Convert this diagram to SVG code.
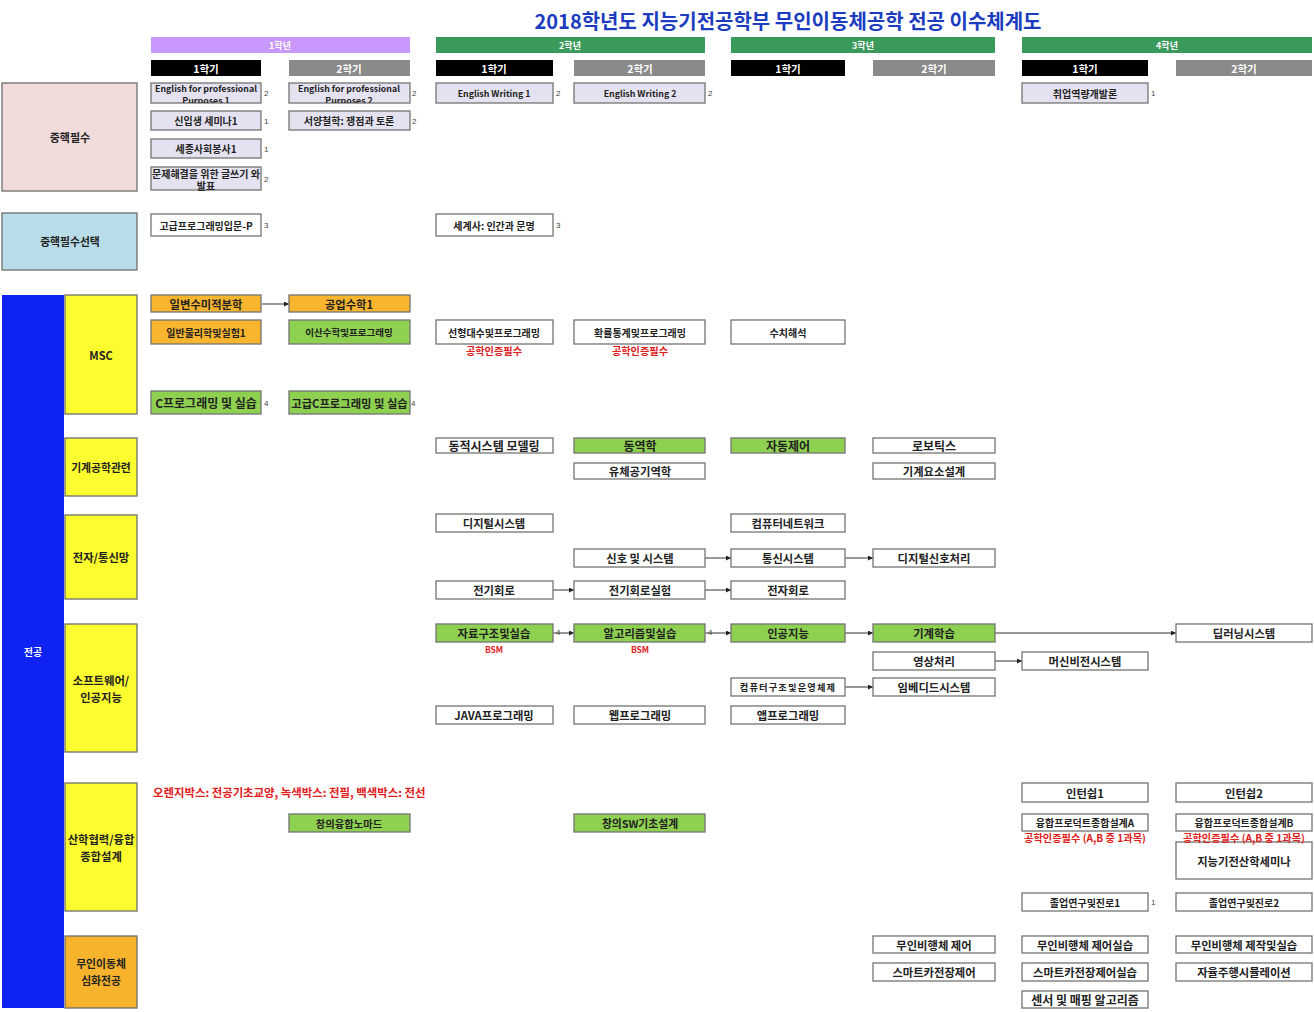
<svg xmlns="http://www.w3.org/2000/svg" width="1314" height="1012" viewBox="0 0 1314 1012">
<style>
.t{font-family:"Noto Sans CJK KR","Liberation Sans",sans-serif;font-weight:bold;font-size:11.3px;text-anchor:middle;dominant-baseline:central;fill:#222}
.m{font-size:10px}
.s{font-size:8.8px}
.l{font-size:12px}
.b{stroke:#737373;stroke-width:1.3}
.lav{fill:#e4e2f0}
.w{fill:#fff}
.g{fill:#8ed150}
.o{fill:#f9b52d}
.cr{font-family:"Liberation Sans",sans-serif;font-size:8px;fill:#444;dominant-baseline:central}
.red{font-family:"Noto Sans CJK KR","Liberation Sans",sans-serif;font-weight:bold;font-size:10.2px;fill:#e0201c;text-anchor:middle;dominant-baseline:central}
.hd{font-family:"Noto Sans CJK KR","Liberation Sans",sans-serif;font-weight:bold;font-size:9px;fill:#fff;text-anchor:middle;dominant-baseline:central}
.sm{font-size:10.5px}
.cat{stroke:#6e6e6e;stroke-width:1.3}
.yel{fill:#fcfc2e}
.cn line{stroke:#333;stroke-width:1;marker-end:url(#ah)}
</style>
<defs>
<marker id="ah" viewBox="0 0 10 10" refX="10" refY="5" markerWidth="5" markerHeight="5" orient="auto" markerUnits="userSpaceOnUse"><path d="M0,0 L10,5 L0,10 z" fill="#222"/></marker>
<clipPath id="c1"><rect x="151" y="83" width="110" height="20"/></clipPath>
<clipPath id="c2"><rect x="289" y="83" width="121" height="20"/></clipPath>
</defs>
<rect width="1314" height="1012" fill="#fff"/>
<text x="788" y="20" font-family="Noto Sans CJK KR,Liberation Sans,sans-serif" font-weight="bold" font-size="20" fill="#1c3cbf" text-anchor="middle" dominant-baseline="central">2018학년도 지능기전공학부 무인이동체공학 전공 이수체계도</text>

<g id="headers">
<rect x="151" y="37" width="259" height="16" fill="#c998fc"/><text class="hd" x="280" y="45">1학년</text>
<rect x="436" y="37" width="269" height="16" fill="#3a9a5c"/><text class="hd" x="570" y="45">2학년</text>
<rect x="731" y="37" width="264" height="16" fill="#3a9a5c"/><text class="hd" x="863" y="45">3학년</text>
<rect x="1022" y="37" width="290" height="16" fill="#3a9a5c"/><text class="hd" x="1167" y="45">4학년</text>
<rect x="151" y="60" width="110" height="16" fill="#000"/><text class="hd sm" x="206" y="68">1학기</text>
<rect x="289" y="60" width="121" height="16" fill="#8a8a8a"/><text class="hd sm" x="349" y="68">2학기</text>
<rect x="436" y="60" width="117" height="16" fill="#000"/><text class="hd sm" x="494" y="68">1학기</text>
<rect x="574" y="60" width="131" height="16" fill="#8a8a8a"/><text class="hd sm" x="640" y="68">2학기</text>
<rect x="731" y="60" width="114" height="16" fill="#000"/><text class="hd sm" x="788" y="68">1학기</text>
<rect x="873" y="60" width="122" height="16" fill="#8a8a8a"/><text class="hd sm" x="934" y="68">2학기</text>
<rect x="1022" y="60" width="126" height="16" fill="#000"/><text class="hd sm" x="1085" y="68">1학기</text>
<rect x="1176" y="60" width="136" height="16" fill="#8a8a8a"/><text class="hd sm" x="1244" y="68">2학기</text>
</g>

<g id="categories">
<g id="cat-core"><rect class="cat" x="2" y="83" width="135" height="108" fill="#f2dcdb"/><text class="t" x="70" y="137" style="font-size:11px">중핵필수</text></g>
<g id="cat-coresel"><rect class="cat" x="2" y="213" width="135" height="57" fill="#b8dde8"/><text class="t" x="70" y="241" style="font-size:10.8px">중핵필수선택</text></g>
<g id="cat-major"><rect x="2" y="295" width="62" height="713" fill="#0f22f4"/><text class="t" x="33" y="651" style="fill:#fff;font-size:10px">전공</text></g>
<g id="cat-msc"><rect class="cat yel" x="65" y="295" width="72" height="119"/><text class="t" x="101" y="355" style="font-size:11px">MSC</text></g>
<g id="cat-mech"><rect class="cat yel" x="65" y="438" width="72" height="58"/><text class="t" x="101" y="467" style="font-size:10.8px">기계공학관련</text></g>
<g id="cat-elec"><rect class="cat yel" x="65" y="515" width="72" height="84"/><text class="t" x="101" y="557">전자/통신망</text></g>
<g id="cat-sw"><rect class="cat yel" x="65" y="624" width="72" height="128"/><text class="t" x="101" y="680">소프트웨어/</text><text class="t" x="101" y="697">인공지능</text></g>
<g id="cat-ind"><rect class="cat yel" x="65" y="783" width="72" height="128"/><text class="t" x="101" y="839">산학협력/융합</text><text class="t" x="101" y="856">종합설계</text></g>
<g id="cat-uv"><rect class="cat" x="65" y="936" width="72" height="72" fill="#f7b32b"/><text class="t" x="101" y="963" style="font-size:10.8px">무인이동체</text><text class="t" x="101" y="980" style="font-size:10.8px">심화전공</text></g>
</g>

<g id="connectors" class="cn">
<line x1="262" y1="304" x2="289" y2="304"/>
<line x1="705" y1="558" x2="731" y2="558"/>
<line x1="845" y1="558" x2="873" y2="558"/>
<line x1="553" y1="590" x2="574" y2="590"/>
<line x1="705" y1="590" x2="731" y2="590"/>
<line x1="553" y1="633" x2="574" y2="633"/>
<line x1="705" y1="633" x2="731" y2="633"/>
<line x1="845" y1="633" x2="873" y2="633"/>
<line x1="995" y1="633" x2="1176" y2="633"/>
<line x1="995" y1="661" x2="1022" y2="661"/>
<line x1="845" y1="687" x2="873" y2="687"/>
</g>

<g id="n-efp1"><rect class="b lav" x="151" y="83" width="110" height="20"/><g clip-path="url(#c1)"><text class="t s" x="206" y="88">English for professional</text><text class="t s" x="206" y="100">Purposes 1</text></g><text class="cr" x="264" y="93">2</text></g>
<g id="n-efp2"><rect class="b lav" x="289" y="83" width="121" height="20"/><g clip-path="url(#c2)"><text class="t s" x="349" y="88">English for professional</text><text class="t s" x="349" y="100">Purposes 2</text></g><text class="cr" x="412" y="93">2</text></g>
<g id="n-sem1"><rect class="b lav" x="151" y="111" width="110" height="19"/><text class="t m" x="206" y="120.5">신입생 세미나1</text><text class="cr" x="264" y="121">1</text></g>
<g id="n-phil"><rect class="b lav" x="289" y="111" width="121" height="19"/><text class="t m" x="349" y="120.5">서양철학: 쟁점과 토론</text><text class="cr" x="412" y="121">2</text></g>
<g id="n-vol"><rect class="b lav" x="151" y="139" width="110" height="19"/><text class="t m" x="206" y="148.5">세종사회봉사1</text><text class="cr" x="264" y="149">1</text></g>
<g id="n-write"><rect class="b lav" x="151" y="167" width="110" height="23"/><text class="t m" x="206" y="173">문제해결을 위한 글쓰기 와</text><text class="t m" x="206" y="185.5">발표</text><text class="cr" x="264" y="179">2</text></g>
<g id="n-ew1"><rect class="b lav" x="436" y="83" width="117" height="20"/><text class="t s" x="494" y="93">English Writing 1</text><text class="cr" x="556" y="93">2</text></g>
<g id="n-ew2"><rect class="b lav" x="574" y="83" width="131" height="20"/><text class="t s" x="640" y="93">English Writing 2</text><text class="cr" x="708" y="93">2</text></g>
<g id="n-job"><rect class="b lav" x="1022" y="83" width="126" height="20"/><text class="t m" x="1085" y="93">취업역량개발론</text><text class="cr" x="1151" y="93">1</text></g>

<g id="n-advprog"><rect class="b w" x="151" y="214" width="110" height="22"/><text class="t m" x="206" y="225">고급프로그래밍입문-P</text><text class="cr" x="264" y="225">3</text></g>
<g id="n-world"><rect class="b w" x="436" y="214" width="117" height="22"/><text class="t m" x="494" y="225">세계사: 인간과 문명</text><text class="cr" x="556" y="225">3</text></g>

<g id="n-calc"><rect class="b o" x="151" y="295" width="110" height="17"/><text class="t" x="206" y="303.5">일변수미적분학</text></g>
<g id="n-engmath"><rect class="b o" x="289" y="295" width="121" height="17"/><text class="t" x="349" y="303.5">공업수학1</text></g>
<g id="n-phys"><rect class="b o" x="151" y="320" width="110" height="24"/><text class="t m" x="206" y="332">일반물리학및실험1</text></g>
<g id="n-disc"><rect class="b g" x="289" y="320" width="121" height="24"/><text class="t" x="349" y="332" style="font-size:9.5px">이산수학및프로그래밍</text></g>
<g id="n-linalg"><rect class="b w" x="436" y="320" width="117" height="24"/><text class="t m" x="494" y="332">선형대수및프로그래밍</text><text class="red" x="494" y="350">공학인증필수</text></g>
<g id="n-prob"><rect class="b w" x="574" y="320" width="131" height="24"/><text class="t m" x="640" y="332">확률통계및프로그래밍</text><text class="red" x="640" y="350">공학인증필수</text></g>
<g id="n-num"><rect class="b w" x="731" y="320" width="114" height="24"/><text class="t m" x="788" y="332">수치해석</text></g>
<g id="n-cprog"><rect class="b g" x="151" y="391" width="110" height="23"/><text class="t l" x="206" y="402.5">C프로그래밍 및 실습</text><text class="cr" x="264" y="403">4</text></g>
<g id="n-advc"><rect class="b g" x="289" y="391" width="121" height="23"/><text class="t" x="349.5" y="402.5">고급C프로그래밍 및 실습</text><text class="cr" x="411" y="403">4</text></g>

<g id="n-dyn-sys"><rect class="b w" x="436" y="438" width="117" height="15"/><text class="t l" x="494" y="445.5">동적시스템 모델링</text></g>
<g id="n-dyn"><rect class="b g" x="574" y="438" width="131" height="15"/><text class="t l" x="640" y="445.5">동역학</text></g>
<g id="n-ctrl"><rect class="b g" x="731" y="438" width="114" height="15"/><text class="t l" x="788" y="445.5">자동제어</text></g>
<g id="n-robot"><rect class="b w" x="873" y="438" width="122" height="15"/><text class="t l" x="934" y="445.5">로보틱스</text></g>
<g id="n-fluid"><rect class="b w" x="574" y="463" width="131" height="16"/><text class="t" x="640" y="471">유체공기역학</text></g>
<g id="n-mdesign"><rect class="b w" x="873" y="463" width="122" height="16"/><text class="t" x="934" y="471">기계요소설계</text></g>

<g id="n-digsys"><rect class="b w" x="436" y="514" width="117" height="18"/><text class="t" x="494" y="523">디지털시스템</text></g>
<g id="n-net"><rect class="b w" x="731" y="514" width="114" height="18"/><text class="t" x="788" y="523">컴퓨터네트워크</text></g>
<g id="n-sig"><rect class="b w" x="574" y="549" width="131" height="18"/><text class="t" x="640" y="558">신호 및 시스템</text></g>
<g id="n-comm"><rect class="b w" x="731" y="549" width="114" height="18"/><text class="t" x="788" y="558">통신시스템</text></g>
<g id="n-dsp"><rect class="b w" x="873" y="549" width="122" height="18"/><text class="t" x="934" y="558">디지털신호처리</text></g>
<g id="n-circ"><rect class="b w" x="436" y="581" width="117" height="18"/><text class="t" x="494" y="590">전기회로</text></g>
<g id="n-circlab"><rect class="b w" x="574" y="581" width="131" height="18"/><text class="t" x="640" y="590">전기회로실험</text></g>
<g id="n-elec"><rect class="b w" x="731" y="581" width="114" height="18"/><text class="t" x="788" y="590">전자회로</text></g>

<g id="n-ds"><rect class="b g" x="436" y="624" width="117" height="18"/><text class="t" x="494" y="633">자료구조및실습</text><text class="cr" x="556" y="632">4</text><text class="red" x="494" y="649" style="font-size:8.5px">BSM</text></g>
<g id="n-algo"><rect class="b g" x="574" y="624" width="131" height="18"/><text class="t" x="640" y="633">알고리즘및실습</text><text class="cr" x="708" y="632">4</text><text class="red" x="640" y="649" style="font-size:8.5px">BSM</text></g>
<g id="n-ai"><rect class="b g" x="731" y="624" width="114" height="18"/><text class="t" x="788" y="633">인공지능</text></g>
<g id="n-ml"><rect class="b g" x="873" y="624" width="122" height="18"/><text class="t" x="934" y="633">기계학습</text></g>
<g id="n-dl"><rect class="b w" x="1176" y="624" width="136" height="18"/><text class="t" x="1244" y="633">딥러닝시스템</text></g>
<g id="n-img"><rect class="b w" x="873" y="652" width="122" height="18"/><text class="t" x="934" y="661">영상처리</text></g>
<g id="n-mv"><rect class="b w" x="1022" y="652" width="126" height="18"/><text class="t" x="1085" y="661">머신비전시스템</text></g>
<g id="n-arch"><rect class="b w" x="731" y="678" width="114" height="18"/><text class="t" x="788" y="687" style="font-size:9.2px;letter-spacing:1.2px">컴퓨터구조및운영체제</text></g>
<g id="n-emb"><rect class="b w" x="873" y="678" width="122" height="18"/><text class="t" x="934" y="687">임베디드시스템</text></g>
<g id="n-java"><rect class="b w" x="436" y="706" width="117" height="18"/><text class="t" x="494" y="715">JAVA프로그래밍</text></g>
<g id="n-web"><rect class="b w" x="574" y="706" width="131" height="18"/><text class="t" x="640" y="715">웹프로그래밍</text></g>
<g id="n-app"><rect class="b w" x="731" y="706" width="114" height="18"/><text class="t" x="788" y="715">앱프로그래밍</text></g>

<text class="red" x="153" y="792" style="text-anchor:start;font-size:11.4px">오렌지박스: 전공기초교양, 녹색박스: 전필, 백색박스: 전선</text>
<g id="n-nomad"><rect class="b g" x="289" y="814" width="121" height="18"/><text class="t" x="349" y="823" style="font-size:10.3px">창의융합노마드</text></g>
<g id="n-swdesign"><rect class="b g" x="574" y="814" width="131" height="18"/><text class="t" x="640" y="823" style="font-size:10.8px">창의SW기초설계</text></g>
<g id="n-intern1"><rect class="b w" x="1022" y="783" width="126" height="19"/><text class="t" x="1085" y="792.5">인턴쉽1</text></g>
<g id="n-intern2"><rect class="b w" x="1176" y="783" width="136" height="19"/><text class="t" x="1244" y="792.5">인턴쉽2</text></g>
<g id="n-semi"><rect class="b w" x="1176" y="842" width="136" height="37"/><text class="t" x="1244" y="860.5">지능기전산학세미나</text></g>
<g id="n-capA"><rect class="b w" x="1022" y="814" width="126" height="17"/><text class="t m" x="1085" y="822.5">융합프로덕트종합설계A</text><text class="red" x="1085" y="837.5">공학인증필수 (A,B 중 1과목)</text></g>
<g id="n-capB"><rect class="b w" x="1176" y="814" width="136" height="17"/><text class="t m" x="1244" y="822.5">융합프로덕트종합설계B</text><text class="red" x="1244" y="837.5">공학인증필수 (A,B 중 1과목)</text></g>
<g id="n-grad1"><rect class="b w" x="1022" y="893" width="126" height="18"/><text class="t m" x="1085" y="902">졸업연구및진로1</text><text class="cr" x="1151" y="902">1</text></g>
<g id="n-grad2"><rect class="b w" x="1176" y="893" width="136" height="18"/><text class="t m" x="1244" y="902">졸업연구및진로2</text></g>

<g id="n-uav"><rect class="b w" x="873" y="936" width="122" height="17"/><text class="t" x="934" y="944.5">무인비행체 제어</text></g>
<g id="n-uavlab"><rect class="b w" x="1022" y="936" width="126" height="17"/><text class="t" x="1085" y="944.5">무인비행체 제어실습</text></g>
<g id="n-uavmake"><rect class="b w" x="1176" y="936" width="136" height="17"/><text class="t" x="1244" y="944.5">무인비행체 제작및실습</text></g>
<g id="n-car"><rect class="b w" x="873" y="963" width="122" height="18"/><text class="t" x="934" y="972">스마트카전장제어</text></g>
<g id="n-carlab"><rect class="b w" x="1022" y="963" width="126" height="18"/><text class="t" x="1085" y="972">스마트카전장제어실습</text></g>
<g id="n-sim"><rect class="b w" x="1176" y="963" width="136" height="18"/><text class="t" x="1244" y="972">자율주행시뮬레이션</text></g>
<g id="n-slam"><rect class="b w" x="1022" y="991" width="126" height="17"/><text class="t l" x="1085" y="999.5">센서 및 매핑 알고리즘</text></g>
</svg>
